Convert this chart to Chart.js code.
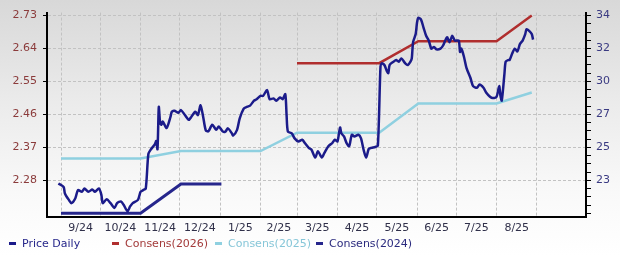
<!DOCTYPE html>
<html><head><meta charset="utf-8">
<script src="https://cdn.jsdelivr.net/npm/chart.js@4.4.1/dist/chart.umd.min.js"></script>
<style>
html,body{margin:0;padding:0;}
body{width:620px;height:256px;overflow:hidden;background:linear-gradient(to bottom,#d8d8d8 0%,#ebebeb 40%,#f9f9f9 75%,#ffffff 100%);font-family:"DejaVu Sans",Verdana,sans-serif;}
#wrap{position:relative;width:620px;height:256px;}
canvas{position:absolute;left:0;top:0;}
.leg{position:absolute;top:237px;font-size:11px;line-height:14px;white-space:nowrap;}
.leg i{display:inline-block;width:7px;height:3px;vertical-align:middle;margin-right:6px;position:relative;top:-1px;}
</style></head>
<body><div id="wrap"><canvas id="c" width="620" height="256"></canvas><div id="legend"></div></div>
<script>
// ---- data ----
const priceDates = ['2024-08-30','2024-09-03','2024-09-04','2024-09-07','2024-09-09','2024-09-12','2024-09-14','2024-09-17','2024-09-19','2024-09-22','2024-09-25','2024-09-27','2024-09-30','2024-10-02','2024-10-03','2024-10-06','2024-10-09','2024-10-12','2024-10-14','2024-10-17','2024-10-19','2024-10-22','2024-10-24','2024-10-26','2024-10-30','2024-11-01','2024-11-03','2024-11-05','2024-11-07','2024-11-09','2024-11-12','2024-11-13','2024-11-14','2024-11-15','2024-11-16','2024-11-17','2024-11-18','2024-11-21','2024-11-24','2024-11-25','2024-11-27','2024-11-30','2024-12-02','2024-12-05','2024-12-08','2024-12-10','2024-12-13','2024-12-15','2024-12-17','2024-12-19','2024-12-21','2024-12-23','2024-12-26','2024-12-29','2024-12-31','2025-01-03','2025-01-05','2025-01-07','2025-01-10','2025-01-11','2025-01-14','2025-01-16','2025-01-19','2025-01-21','2025-01-24','2025-01-27','2025-01-29','2025-02-01','2025-02-03','2025-02-06','2025-02-08','2025-02-11','2025-02-13','2025-02-16','2025-02-18','2025-02-20','2025-02-21','2025-02-22','2025-02-25','2025-02-27','2025-03-02','2025-03-05','2025-03-07','2025-03-10','2025-03-12','2025-03-15','2025-03-17','2025-03-20','2025-03-22','2025-03-25','2025-03-28','2025-03-30','2025-04-01','2025-04-03','2025-04-04','2025-04-06','2025-04-08','2025-04-10','2025-04-12','2025-04-14','2025-04-17','2025-04-19','2025-04-21','2025-04-23','2025-04-25','2025-04-27','2025-04-30','2025-05-02','2025-05-04','2025-05-05','2025-05-07','2025-05-09','2025-05-10','2025-05-11','2025-05-14','2025-05-16','2025-05-18','2025-05-20','2025-05-23','2025-05-25','2025-05-27','2025-05-28','2025-05-29','2025-05-31','2025-06-01','2025-06-02','2025-06-04','2025-06-06','2025-06-08','2025-06-10','2025-06-12','2025-06-14','2025-06-16','2025-06-19','2025-06-21','2025-06-24','2025-06-26','2025-06-28','2025-06-30','2025-07-03','2025-07-04','2025-07-05','2025-07-07','2025-07-09','2025-07-12','2025-07-14','2025-07-17','2025-07-19','2025-07-22','2025-07-24','2025-07-27','2025-07-29','2025-08-01','2025-08-03','2025-08-04','2025-08-05','2025-08-07','2025-08-08','2025-08-10','2025-08-11','2025-08-13','2025-08-15','2025-08-17','2025-08-19','2025-08-21','2025-08-23','2025-08-24','2025-08-26','2025-08-28','2025-08-29'];
const priceValues = [22.79,22.56,22.13,21.70,21.48,21.81,22.35,22.24,22.46,22.24,22.39,22.24,22.46,22.02,21.48,21.74,21.48,21.16,21.48,21.59,21.37,20.94,21.26,21.48,21.70,22.24,22.35,22.46,24.76,25.08,25.41,25.62,25.08,27.90,26.84,26.71,26.92,26.50,27.25,27.58,27.64,27.51,27.69,27.36,27.04,27.25,27.58,27.36,28.01,27.25,26.34,26.27,26.71,26.38,26.60,26.27,26.25,26.47,26.14,25.99,26.37,27.12,27.77,27.88,27.99,28.32,28.42,28.64,28.64,29.03,28.42,28.47,28.32,28.53,28.42,28.75,27.34,26.25,26.14,25.82,25.60,25.71,25.49,25.17,25.06,24.52,24.95,24.52,24.84,25.28,25.49,25.71,25.60,26.53,26.14,25.93,25.49,25.28,26.04,25.93,26.04,25.82,25.06,24.52,25.10,25.17,25.23,25.32,30.60,30.81,30.70,30.27,30.16,30.70,30.92,31.03,30.92,31.14,30.81,30.70,30.92,31.14,32.22,32.76,33.52,33.85,33.74,33.20,32.65,32.33,31.79,31.90,31.74,31.79,32.00,32.55,32.22,32.65,32.33,32.33,31.57,31.79,31.25,30.49,29.83,29.29,29.18,29.40,29.18,28.86,28.58,28.49,28.58,29.29,28.64,28.32,30.05,30.92,31.03,31.03,31.46,31.79,31.61,32.11,32.33,32.76,33.09,32.98,32.76,32.39];

const cons2026Dates = ['2025-03-01','2025-05-03','2025-06-02','2025-08-01','2025-08-28'];
const cons2026Values = [2.60,2.60,2.66,2.66,2.73];
const cons2025Dates = ['2024-09-01','2024-11-01','2024-12-02','2025-02-01','2025-03-01','2025-05-03','2025-06-02','2025-08-01','2025-08-28'];
const cons2025Values = [2.34,2.34,2.36,2.36,2.41,2.41,2.49,2.49,2.52];
const cons2024Dates = ['2024-09-01','2024-11-01','2024-12-02','2025-01-02'];
const cons2024Values = [2.19,2.19,2.27,2.27];

const xTickLabels = ['9/24','10/24','11/24','12/24','1/25','2/25','3/25','4/25','5/25','6/25','7/25','8/25'];
const leftTicks = [2.28,2.37,2.46,2.55,2.64,2.73];
const rightAnchor = {left:[2.28,2.73], right:[23,34]};

const seriesNames = ['Price Daily','Consens(2026)','Consens(2025)','Consens(2024)'];
const seriesColors = ['#1b1b8a','#b02e2e','#8fd0e0','#26268c'];
const legendTextColors = ['#26268a','#a33a3a','#86c6d8','#2a2a7e'];

// ---- helpers ----
const BASE = Date.UTC(2024,8,1);
const toDay = s => (Date.UTC(+s.slice(0,4), +s.slice(5,7)-1, +s.slice(8,10)) - BASE)/864e5;
const pts = (d,v) => d.map((s,i)=>({x:toDay(s), y:v[i]}));
const L2R = L => rightAnchor.right[0] + (L-rightAnchor.left[0])*(rightAnchor.right[1]-rightAnchor.right[0])/(rightAnchor.left[1]-rightAnchor.left[0]);

const monthStarts = [], midMonths = [], midLabel = {};
xTickLabels.forEach((lb,i) => {
  const [m,y] = lb.split('/').map(Number);
  const s = (Date.UTC(2000+y,m-1,1)-BASE)/864e5;
  const e = (Date.UTC(2000+y,m,1)-BASE)/864e5;
  monthStarts.push(s); if (i===xTickLabels.length-1) monthStarts.push(e);
  const mid = (s+e)/2; midMonths.push(mid); midLabel[mid]=lb;
});

const LMIN = 2.18, LMAX = 2.738;
const XMIN = -10.74, XMAX = 402.6;
const leftStep = leftTicks[1]-leftTicks[0];
const rightTickVals = [];
for (let i=-4;i<=20;i++){ const L = leftTicks[0]+i*leftStep/4; if (L>=LMIN && L<=LMAX+1e-9) rightTickVals.push({v:L2R(L), major:(i>=0 && i%4===0)}); }
const majorRight = new Set(rightTickVals.filter(t=>t.major).map(t=>t.v));

const FONT = {family:'"DejaVu Sans", Verdana, sans-serif', size:11};
const GRID = '#c2c2c2';

new Chart(document.getElementById('c'), {
  type:'line',
  data:{datasets:[
    {label:seriesNames[0], data:pts(priceDates,priceValues), xAxisID:'x', yAxisID:'y2', borderColor:seriesColors[0], borderWidth:2.5, pointRadius:0, tension:0.25, order:0},
    {label:seriesNames[1], data:pts(cons2026Dates,cons2026Values), xAxisID:'x', yAxisID:'y', borderColor:seriesColors[1], borderWidth:2.5, pointRadius:0, order:1},
    {label:seriesNames[2], data:pts(cons2025Dates,cons2025Values), xAxisID:'x', yAxisID:'y', borderColor:seriesColors[2], borderWidth:2.5, pointRadius:0, order:2},
    {label:seriesNames[3], data:pts(cons2024Dates,cons2024Values), xAxisID:'x', yAxisID:'y', borderColor:seriesColors[3], borderWidth:3, pointRadius:0, order:3}
  ]},
  options:{
    responsive:false, animation:false, devicePixelRatio:1,
    layout:{padding:{top:8,left:0,right:0,bottom:0}},
    plugins:{legend:{display:false}, tooltip:{enabled:false}},
    scales:{
      x:{type:'linear', position:'bottom', min:XMIN, max:XMAX,
        afterBuildTicks:s=>{ s.ticks = midMonths.map(v=>({value:v})); },
        afterFit:s=>{ s.height = 39; },
        ticks:{autoSkip:false, maxRotation:0, padding:5, color:'#30304a', font:FONT,
          callback:(v)=> midLabel[v] !== undefined ? midLabel[v] : ''},
        grid:{display:false, drawTicks:false},
        border:{display:true, color:'#000', width:2}
      },
      xg:{type:'linear', position:'bottom', min:XMIN, max:XMAX,
        afterBuildTicks:s=>{ s.ticks = monthStarts.map(v=>({value:v})); },
        afterFit:s=>{ s.height = 0; },
        ticks:{display:false, autoSkip:false},
        grid:{display:true, drawTicks:false, color:GRID, lineWidth:1},
        border:{display:false, dash:[3,2]}
      },
      y:{type:'linear', position:'left', min:LMIN, max:LMAX,
        afterBuildTicks:s=>{ s.ticks = leftTicks.map(v=>({value:v})); },
        afterFit:s=>{ s.width = 47; },
        ticks:{padding:6, color:'#8b3b3b', font:FONT, callback:v=>Number(v).toFixed(2)},
        grid:{color:GRID, tickColor:'#000', tickBorderDash:[], tickLength:4, tickWidth:1},
        border:{display:true, color:'#000', width:2, dash:[3,2]}
      },
      y2:{type:'linear', position:'right', min:L2R(LMIN), max:L2R(LMAX),
        afterBuildTicks:s=>{ s.ticks = rightTickVals.map(t=>({value:t.v})); },
        afterFit:s=>{ s.width = 34; },
        ticks:{autoSkip:false, padding:5, color:'#3a3a82', font:FONT, callback:v=> majorRight.has(v) ? String(Math.round(v)) : ''},
        grid:{drawOnChartArea:false, color:'#000', tickColor:'#000', tickLength:5, tickWidth:1},
        border:{display:true, color:'#000', width:2}
      }
    }
  }
});

// ---- legend ----
const legendX = [9,112,215,316];
const lg = document.getElementById('legend');
seriesNames.forEach((n,i)=>{
  const d = document.createElement('div');
  d.className='leg'; d.style.left = legendX[i]+'px'; d.style.color = legendTextColors[i];
  d.innerHTML = '<i style="background:'+seriesColors[i]+'"></i>'+n;
  lg.appendChild(d);
});
</script>
</body></html>
